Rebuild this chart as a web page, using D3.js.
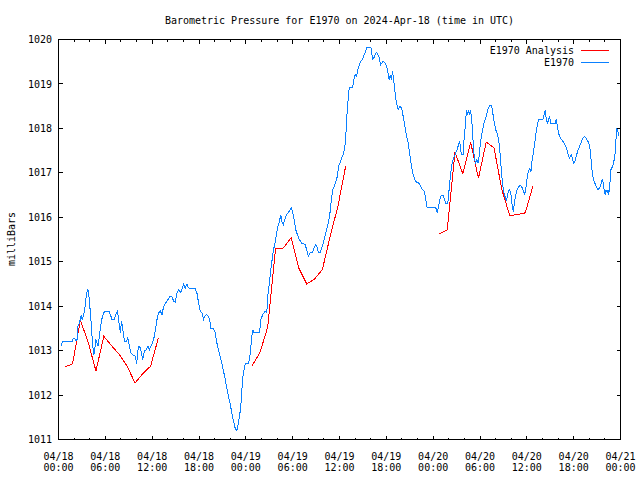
<!DOCTYPE html>
<html><head><meta charset="utf-8">
<script src="https://cdn.jsdelivr.net/npm/d3@7"></script>
<style>
body{margin:0;background:#fff}
svg text{font-family:"DejaVu Sans Mono",monospace;font-size:10px;fill:#000}
</style></head><body>
<svg id="c" width="640" height="480"></svg>
<script>
const title = "Barometric Pressure for E1970 on 2024-Apr-18 (time in UTC)";
const yLabel = "milliBars";
const seriesNames = ["E1970 Analysis", "E1970"];
const seriesColors = ["#ff0000", "#0a80ff"];
const startTime = Date.UTC(2024, 3, 18, 0, 0);
const yTicks = [1011, 1012, 1013, 1014, 1015, 1016, 1017, 1018, 1019, 1020];
const xMajorHours = [0, 6, 12, 18, 24, 30, 36, 42, 48, 54, 60, 66, 72];

// E1970 observations: hours since 04/18 00:00 UTC, pressure (mb)
const obsHours = [0.34,0.51,1.75,1.88,2.09,2.22,2.39,2.47,2.69,2.90,3.03,3.15,3.28,3.41,3.58,3.75,3.88,4.01,4.13,4.26,4.39,4.52,4.65,4.77,4.94,5.07,5.24,5.37,5.54,5.71,5.92,6.44,6.65,6.86,7.16,7.33,7.54,7.67,7.80,7.93,8.06,8.18,8.35,8.48,8.70,8.87,8.99,9.12,9.29,9.51,9.85,10.02,10.14,10.32,10.49,10.61,10.78,11.00,11.25,11.47,11.64,11.85,12.06,12.28,12.45,12.62,12.83,13.04,13.26,13.38,13.60,13.81,14.02,14.24,14.54,14.75,14.96,15.17,15.39,15.60,15.81,16.03,16.24,16.45,16.67,16.88,17.52,17.73,17.95,18.16,18.37,18.58,18.80,19.01,19.22,19.44,19.52,19.86,20.08,20.29,20.50,20.72,20.93,21.14,21.36,21.57,21.78,22.00,22.21,22.42,22.63,22.85,23.02,23.19,23.36,23.49,23.61,23.78,23.91,24.34,24.55,24.76,24.89,25.02,25.75,25.92,26.17,26.47,26.68,26.81,27.02,27.20,27.37,27.54,27.71,27.88,28.05,28.26,28.48,28.60,28.81,28.99,29.24,29.54,29.84,30.01,30.22,30.39,30.61,30.86,31.16,31.58,31.80,32.01,32.23,32.52,32.74,32.95,33.17,33.29,33.50,33.72,33.93,34.14,34.36,34.57,34.78,34.96,35.13,35.34,35.55,35.72,35.90,36.06,36.27,36.49,36.70,36.83,36.91,37.04,37.17,37.26,37.68,37.85,38.02,38.19,38.36,38.53,38.75,38.96,39.17,39.34,39.47,40.03,40.15,40.28,40.41,40.58,40.75,40.92,41.09,41.26,41.43,41.60,41.82,42.03,42.20,42.37,42.50,42.63,42.80,42.93,43.05,43.22,43.39,43.52,43.73,43.95,44.16,44.37,44.59,44.80,45.01,45.23,45.44,45.65,45.86,46.16,46.38,46.63,46.89,47.06,47.23,47.57,48.34,48.51,48.68,48.85,49.02,49.28,49.45,49.62,49.87,50.04,50.21,50.38,50.55,50.72,50.89,51.07,51.24,51.41,51.49,51.66,51.83,51.96,52.09,52.26,52.39,52.52,52.64,52.77,52.90,53.03,53.15,53.28,53.41,53.58,53.75,53.88,54.05,54.22,54.39,54.56,54.73,54.90,55.07,55.24,55.50,55.67,55.84,56.01,56.18,56.35,56.52,56.69,56.86,57.03,57.20,57.37,57.50,57.63,57.80,57.97,58.14,58.27,58.40,58.57,58.74,58.91,59.08,59.30,59.51,59.72,59.85,60.02,60.19,60.36,60.53,60.66,60.87,61.04,61.21,61.38,61.55,62.06,62.23,62.36,62.49,62.66,62.92,63.09,63.60,63.77,63.90,64.02,64.19,64.41,64.62,64.79,64.96,65.13,65.30,65.47,65.60,65.73,65.86,66.03,66.16,66.33,66.50,66.67,66.84,67.01,67.18,67.39,67.61,67.82,68.03,68.16,68.29,68.46,68.63,68.80,68.97,69.14,69.31,69.48,69.65,69.78,69.91,70.04,70.16,70.29,70.42,70.50,70.63,70.76,70.89,71.06,71.23,71.36,71.44,71.53,71.66,71.78];
const obsValues = [1013.11,1013.20,1013.20,1013.27,1013.27,1013.23,1013.25,1013.55,1013.62,1013.80,1013.71,1013.77,1013.85,1014.00,1014.26,1014.39,1014.26,1014.00,1013.77,1013.40,1013.10,1012.91,1013.02,1013.26,1013.17,1013.10,1013.32,1013.51,1013.70,1013.81,1013.89,1013.89,1013.81,1013.70,1013.70,1013.81,1013.89,1013.77,1013.55,1013.40,1013.66,1013.55,1013.32,1013.20,1013.20,1013.29,1013.20,1013.06,1012.95,1012.91,1012.87,1012.70,1012.99,1013.10,1013.06,1012.95,1012.80,1012.99,1013.02,1013.10,1013.02,1013.10,1013.19,1013.32,1013.51,1013.70,1013.85,1013.89,1013.81,1013.92,1014.04,1014.09,1014.15,1014.21,1014.21,1014.11,1014.09,1014.30,1014.37,1014.30,1014.37,1014.49,1014.41,1014.49,1014.41,1014.39,1014.39,1014.30,1014.07,1013.89,1013.85,1013.70,1013.79,1013.81,1013.77,1013.62,1013.49,1013.49,1013.40,1013.17,1013.02,1012.87,1012.72,1012.54,1012.35,1012.16,1011.97,1011.79,1011.60,1011.41,1011.26,1011.19,1011.34,1011.52,1011.75,1012.12,1012.39,1012.57,1012.70,1012.70,1012.91,1013.32,1013.47,1013.40,1013.40,1013.70,1013.81,1013.89,1013.85,1014.22,1014.52,1014.82,1015.05,1015.27,1015.39,1015.57,1015.76,1015.87,1016.06,1015.91,1015.84,1015.95,1016.06,1016.13,1016.21,1016.10,1015.91,1015.72,1015.61,1015.50,1015.42,1015.39,1015.27,1015.12,1015.20,1015.20,1015.31,1015.39,1015.31,1015.20,1015.20,1015.31,1015.42,1015.57,1015.72,1015.87,1016.10,1016.40,1016.62,1016.70,1016.81,1016.92,1017.15,1017.22,1017.33,1017.41,1017.60,1017.90,1018.20,1018.50,1018.80,1018.91,1018.91,1019.10,1019.21,1019.17,1019.32,1019.43,1019.51,1019.55,1019.66,1019.73,1019.81,1019.81,1019.66,1019.55,1019.59,1019.66,1019.71,1019.66,1019.59,1019.43,1019.47,1019.51,1019.47,1019.40,1019.25,1019.10,1019.21,1019.10,1019.28,1019.10,1018.91,1018.65,1018.50,1018.42,1018.50,1018.46,1018.27,1018.05,1017.82,1017.67,1017.41,1017.15,1016.96,1016.85,1016.79,1016.77,1016.70,1016.62,1016.58,1016.40,1016.21,1016.21,1016.21,1016.11,1016.23,1016.40,1016.49,1016.49,1016.40,1016.31,1016.31,1016.62,1016.92,1017.18,1017.30,1017.37,1017.45,1017.52,1017.63,1017.71,1017.52,1017.41,1017.41,1017.75,1018.01,1018.41,1018.31,1018.41,1018.31,1018.41,1018.27,1017.97,1017.60,1017.33,1017.22,1017.30,1017.22,1017.37,1017.67,1017.86,1018.01,1018.16,1018.23,1018.35,1018.46,1018.51,1018.51,1018.31,1018.12,1017.97,1017.90,1017.78,1017.56,1017.15,1016.81,1016.58,1016.47,1016.36,1016.47,1016.58,1016.62,1016.51,1016.25,1016.13,1016.32,1016.49,1016.62,1016.68,1016.71,1016.70,1016.62,1016.52,1016.62,1016.85,1017.03,1017.09,1017.03,1017.26,1017.48,1017.71,1017.93,1018.12,1018.21,1018.21,1018.31,1018.41,1018.20,1018.12,1018.27,1018.10,1018.10,1018.20,1018.05,1017.93,1017.82,1017.75,1017.71,1017.67,1017.60,1017.52,1017.41,1017.33,1017.37,1017.41,1017.30,1017.21,1017.26,1017.37,1017.48,1017.56,1017.63,1017.71,1017.78,1017.81,1017.78,1017.71,1017.63,1017.45,1017.15,1016.92,1016.81,1016.73,1016.67,1016.62,1016.66,1016.73,1016.86,1016.77,1016.62,1016.51,1016.62,1016.55,1016.62,1016.51,1016.73,1017.07,1017.11,1017.18,1017.33,1017.52,1017.82,1018.01,1017.93,1017.82];

// E1970 Analysis: three 12-hour runs (null = gap)
const anaHours = [0.8,1.8,2.8,3.8,4.8,5.8,6.8,7.8,8.8,9.8,10.8,11.8,12.8,null,24.8,25.8,26.8,27.8,28.8,29.8,30.8,31.8,32.8,33.8,34.8,35.8,36.8,null,48.8,49.8,50.8,51.8,52.8,53.8,54.8,55.8,56.8,57.8,58.8,59.8,60.8];
const anaValues = [1012.63,1012.70,1013.68,1013.19,1012.54,1013.32,1013.11,1012.91,1012.65,1012.27,1012.48,1012.65,1013.29,null,1012.66,1012.95,1013.53,1015.29,1015.31,1015.54,1014.85,1014.50,1014.61,1014.82,1015.57,1016.25,1017.16,null,1015.63,1015.72,1017.46,1016.98,1017.69,1016.88,1017.69,1017.56,1016.62,1016.04,1016.06,1016.10,1016.71];

const svg = d3.select("#c");
const L = 58.5, R = 620.5, T = 39.5, B = 439.5;
const toDate = h => new Date(startTime + h * 3600000);
const x = d3.scaleUtc().domain([toDate(0), toDate(72)]).range([L, R]);
const y = d3.scaleLinear().domain([1011, 1020]).range([B, T]);

// title
svg.append("text").attr("x", (L + R) / 2).attr("y", 24).attr("text-anchor", "middle").text(title);
// y label
svg.append("text").attr("transform", "translate(15,239) rotate(-90)").attr("text-anchor", "middle").text(yLabel);

const g = svg.append("g");
// minor x ticks every 2h
const minorTicks = d3.utcHour.every(2).range(toDate(0), toDate(72.01));
minorTicks.forEach(d => {
  const xp = Math.round(x(d) - 0.5) + 0.5;
  g.append("line").attr("x1", xp).attr("x2", xp).attr("y1", B).attr("y2", B - 2).attr("stroke", "#000");
  g.append("line").attr("x1", xp).attr("x2", xp).attr("y1", T).attr("y2", T + 2).attr("stroke", "#000");
});
// major x ticks + labels
const fmtD = d3.utcFormat("%m/%d"), fmtT = d3.utcFormat("%H:%M");
xMajorHours.forEach(h => {
  const d = toDate(h);
  const xp = Math.round(x(d) - 0.5) + 0.5;
  g.append("line").attr("x1", xp).attr("x2", xp).attr("y1", B).attr("y2", B - 4).attr("stroke", "#000");
  g.append("line").attr("x1", xp).attr("x2", xp).attr("y1", T).attr("y2", T + 4).attr("stroke", "#000");
  g.append("text").attr("x", x(d)).attr("y", 459.5).attr("text-anchor", "middle").text(fmtD(d));
  g.append("text").attr("x", x(d)).attr("y", 471).attr("text-anchor", "middle").text(fmtT(d));
});
// y ticks
yTicks.forEach(v => {
  const yp = Math.round(y(v) - 0.5) + 0.5;
  g.append("line").attr("x1", L).attr("x2", L + 4).attr("y1", yp).attr("y2", yp).attr("stroke", "#000");
  g.append("line").attr("x1", R).attr("x2", R - 4).attr("y1", yp).attr("y2", yp).attr("stroke", "#000");
  g.append("text").attr("x", 52).attr("y", y(v)).attr("dy", "0.36em").attr("text-anchor", "end").text(v);
});
g.attr("shape-rendering", "crispEdges");

// series
const line = d3.line().defined(d => d[1] != null).x(d => x(toDate(d[0]))).y(d => y(d[1]));
const anaData = anaHours.map((h, i) => [h, anaValues[i]]);
const obsData = obsHours.map((h, i) => [h, obsValues[i]]);
svg.append("path").datum(anaData).attr("d", line).attr("fill", "none").attr("stroke", seriesColors[0]).attr("stroke-width", 1).attr("shape-rendering", "crispEdges");
svg.append("path").datum(obsData).attr("d", line).attr("fill", "none").attr("stroke", seriesColors[1]).attr("stroke-width", 1).attr("shape-rendering", "crispEdges");

// border
svg.append("rect").attr("x", L).attr("y", T).attr("width", R - L).attr("height", B - T)
  .attr("fill", "none").attr("stroke", "#000").attr("shape-rendering", "crispEdges");

// legend
const legY = [50.5, 62.5];
seriesNames.forEach((n, i) => {
  svg.append("text").attr("x", 574).attr("y", legY[i]).attr("dy", "0.36em").attr("text-anchor", "end").text(n);
  svg.append("line").attr("x1", 581).attr("x2", 609).attr("y1", legY[i]).attr("y2", legY[i])
    .attr("stroke", seriesColors[i]).attr("shape-rendering", "crispEdges");
});
</script>
</body></html>
